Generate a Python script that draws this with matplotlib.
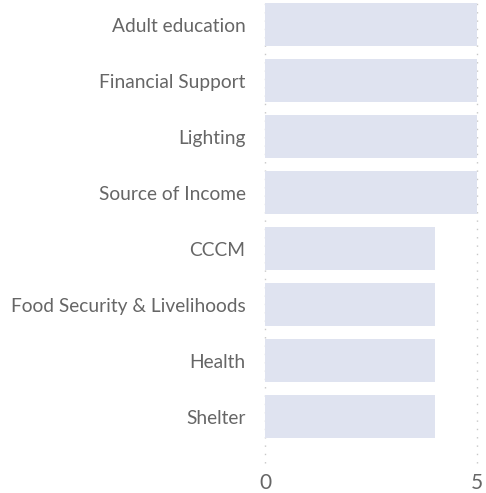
import matplotlib
matplotlib.use("Agg")
import matplotlib.pyplot as plt

categories = ["Adult education", "Financial Support", "Lighting", "Source of Income",
              "CCCM", "Food Security & Livelihoods", "Health", "Shelter"]
values = [5, 5, 5, 5, 4, 4, 4, 4]
x_ticks = [0, 5]

plt.rcParams['font.family'] = ['Lato', 'DejaVu Sans']

fig = plt.figure(figsize=(4.86, 4.93), dpi=100)
ax = fig.add_axes([265 / 486, 30 / 493, 212 / 486, 463 / 493])

ypos = list(range(len(categories)))
ax.barh(ypos, values, height=0.77, color="#dfe3f0", zorder=2)

ax.set_xlim(0, 5)
ax.set_ylim(7.83, -0.44)
ax.set_yticks(ypos)
ax.set_yticklabels(categories, fontsize=13.8, color="#666666")
ax.set_xticks(x_ticks)
ax.set_xticklabels([str(t) for t in x_ticks], fontsize=15, color="#666666")
ax.tick_params(axis="both", length=0)
ax.tick_params(axis="y", pad=14)
ax.tick_params(axis="x", pad=7)

for s in ax.spines.values():
    s.set_visible(False)
ax.grid(axis="x", linestyle=(0, (1, 5)), color="#c8c8c8", linewidth=1, zorder=1)
for gl in ax.get_xgridlines():
    gl.set_clip_on(False)
ax.set_axisbelow(True)

fig.savefig("out.png", dpi=100)
